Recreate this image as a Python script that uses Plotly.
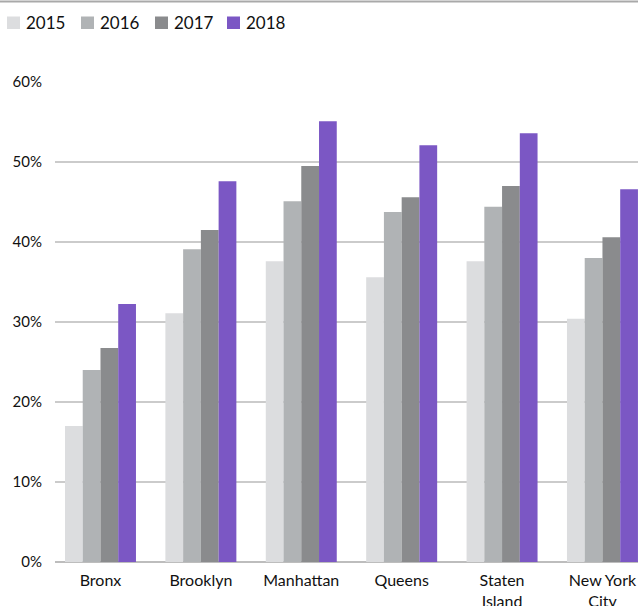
import plotly.graph_objects as go

boroughs = ["Bronx", "Brooklyn", "Manhattan", "Queens", "Staten<br>Island", "New York<br>City"]
years = ["2015", "2016", "2017", "2018"]
v2015 = [17.0, 31.1, 37.6, 35.6, 37.6, 30.4]
v2016 = [24.0, 39.1, 45.1, 43.75, 44.4, 38.0]
v2017 = [26.75, 41.5, 49.5, 45.6, 47.0, 40.6]
v2018 = [32.25, 47.6, 55.1, 52.1, 53.6, 46.6]
colors = ["#dcdddf", "#b0b3b5", "#8a8b8d", "#7b57c4"]
y_ticks = [0, 10, 20, 30, 40, 50, 60]
y_ticktext = [f"{t}%" for t in y_ticks]

series = [v2015, v2016, v2017, v2018]

fig = go.Figure()
for name, vals, col in zip(years, series, colors):
    fig.add_trace(go.Bar(x=boroughs, y=vals, name=name, marker=dict(color=col, line=dict(width=0))))

W, H = 638, 606
ml, mr, mt, mb = 55, 0, 82, 44
pw = W - ml - mr
ph = H - mt - mb


def px_x(p):
    return (p - ml) / pw


def px_y(p):
    return 1 + (mt - p) / ph


# legend (key squares + labels), laid out in pixels along the top
legend_left = [7, 81, 155, 227]
shapes = [dict(type="line", xref="paper", yref="paper",
               x0=px_x(0), x1=1.0, y0=px_y(1.5), y1=px_y(1.5),
               line=dict(color="#a9a9a9", width=2))]
annotations = []
for left, name, col in zip(legend_left, years, colors):
    shapes.append(dict(type="rect", xref="paper", yref="paper",
                       x0=px_x(left), x1=px_x(left + 13), y0=px_y(29), y1=px_y(16.5),
                       fillcolor=col, line=dict(width=0)))
    annotations.append(dict(text=name, xref="paper", yref="paper", x=px_x(left + 17), y=px_y(22.5),
                            xanchor="left", yanchor="middle", showarrow=False,
                            font=dict(size=17, color="#111111")))

fig.update_layout(
    width=W, height=H,
    margin=dict(l=ml, r=mr, t=mt, b=mb, autoexpand=False),
    paper_bgcolor="white", plot_bgcolor="white",
    barmode="group", bargap=0.293, bargroupgap=0,
    font=dict(family="Lato", size=15, color="#111111"),
    showlegend=False,
    xaxis=dict(range=[-0.453, 5.354], showgrid=False, zeroline=False, showline=False,
               ticks="outside", ticklen=4, tickcolor="rgba(0,0,0,0)",
               tickfont=dict(size=16), automargin=False, fixedrange=True),
    yaxis=dict(range=[0, 60], tickvals=y_ticks, ticktext=y_ticktext,
               showgrid=True, gridcolor="#cbcbcb", gridwidth=1.6,
               zeroline=True, zerolinecolor="#bdbdbd", zerolinewidth=1.6,
               showline=False, ticks="outside", ticklen=9, tickcolor="rgba(0,0,0,0)",
               tickfont=dict(size=15), automargin=False, fixedrange=True),
    shapes=shapes,
    annotations=annotations,
)

fig.write_html("out.html", config={"displayModeBar": False},
               post_script="document.body.style.margin='0px';")
